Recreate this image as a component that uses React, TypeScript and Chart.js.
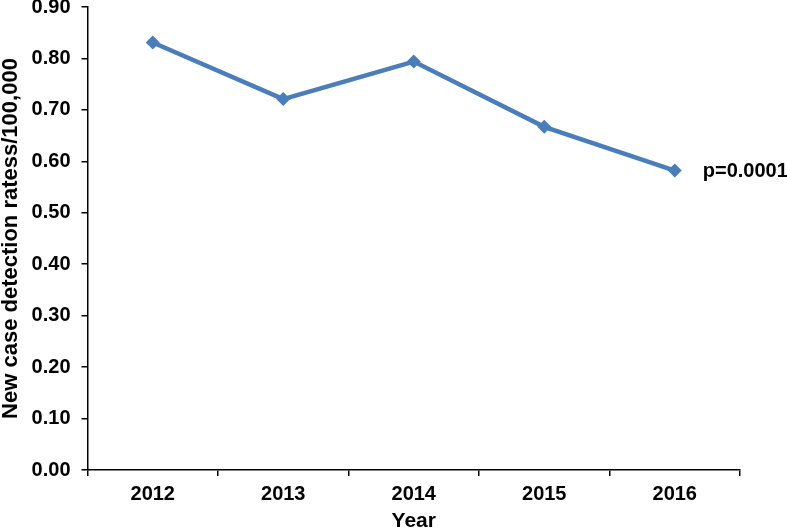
import React, { useEffect, useRef } from 'react';
import { Chart, registerables } from 'chart.js';

Chart.register(...registerables);

const years: string[] = ['2012', '2013', '2014', '2015', '2016'];
const rates: number[] = [0.831, 0.721, 0.794, 0.667, 0.582];
const yMin = 0;
const yMax = 0.9;
const yStep = 0.1;
const xTitle = 'Year';
const yTitle = 'New case detection ratess/100,000';
const pLabel = 'p=0.0001';

const FONT = "'Liberation Sans', Arial, Helvetica, sans-serif";
const LINE_COLOR = '#4A7EBB';

const pLabelPlugin = {
  id: 'pLabel',
  afterDatasetsDraw(chart: any) {
    const meta = chart.getDatasetMeta(0);
    const last = meta.data[meta.data.length - 1];
    if (!last) return;
    const ctx = chart.ctx;
    ctx.save();
    ctx.font = `bold 20px ${FONT}`;
    ctx.fillStyle = '#000';
    ctx.textAlign = 'left';
    ctx.textBaseline = 'middle';
    ctx.fillText(pLabel, last.x + 28, last.y + 1);
    ctx.restore();
  },
};

export default function App() {
  const ref = useRef<HTMLCanvasElement | null>(null);

  useEffect(() => {
    if (!ref.current) return;
    const chart = new Chart(ref.current, {
      type: 'line',
      data: {
        labels: years,
        datasets: [
          {
            data: rates,
            borderColor: LINE_COLOR,
            backgroundColor: LINE_COLOR,
            borderWidth: 4.5,
            pointStyle: 'rectRot',
            pointRadius: 7,
            pointBackgroundColor: LINE_COLOR,
            pointBorderColor: LINE_COLOR,
            pointBorderWidth: 0,
            tension: 0,
            fill: false,
          },
        ],
      },
      options: {
        responsive: false,
        animation: false,
        layout: {
          autoPadding: false,
          padding: { top: 7, right: 47, bottom: 0, left: 0 },
        },
        plugins: {
          legend: { display: false },
          tooltip: { enabled: false },
          title: { display: false },
        },
        scales: {
          x: {
            type: 'category',
            offset: true,
            grid: {
              offset: true,
              drawOnChartArea: false,
              drawTicks: true,
              tickLength: 6,
              color: '#000',
              lineWidth: 1.5,
            },
            border: { display: true, color: '#000', width: 1.5 },
            ticks: {
              color: '#000',
              font: { family: FONT, size: 20, weight: 'bold' },
              padding: 6,
              maxRotation: 0,
            },
            title: {
              display: true,
              text: xTitle,
              color: '#000',
              font: { family: FONT, size: 21, weight: 'bold', lineHeight: 1 },
              padding: { top: 0, bottom: -2 },
            },
            afterFit(scale: any) {
              scale.height = 60;
              scale.paddingLeft = 0;
              scale.paddingRight = 0;
            },
          },
          y: {
            min: yMin,
            max: yMax,
            grid: {
              drawOnChartArea: false,
              drawTicks: true,
              tickLength: 6,
              color: '#000',
              lineWidth: 1.5,
            },
            border: { display: true, color: '#000', width: 1.5 },
            ticks: {
              stepSize: yStep,
              color: '#000',
              font: { family: FONT, size: 20, weight: 'bold' },
              padding: 11,
              callback: (v: any) => Number(v).toFixed(2),
            },
            title: {
              display: true,
              text: yTitle,
              color: '#000',
              font: { family: FONT, size: 22, weight: 'bold', lineHeight: 1 },
              padding: { top: 0, bottom: 0 },
            },
            afterFit(scale: any) {
              scale.width = 87.5;
              scale.paddingTop = 0;
              scale.paddingBottom = 0;
            },
          },
        },
      },
      plugins: [pLabelPlugin],
    });
    return () => chart.destroy();
  }, []);

  return (
    <div style={{ position: 'fixed', left: 0, top: 0, width: 787, height: 530, background: '#fff' }}>
      <canvas ref={ref} width={787} height={530} style={{ width: 787, height: 530, display: 'block' }} />
    </div>
  );
}
